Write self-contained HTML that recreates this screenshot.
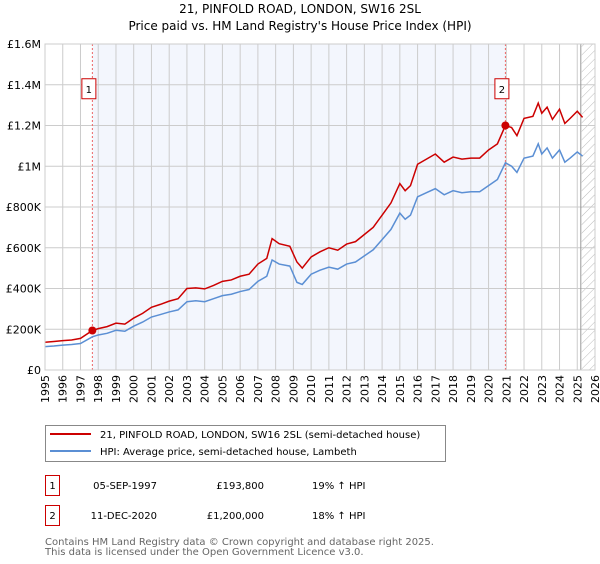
<!DOCTYPE html>
<html><head><meta charset="utf-8"><style>
body{margin:0;background:#fff;font-family:"DejaVu Sans","Liberation Sans",sans-serif;}
svg text{font-family:"DejaVu Sans","Liberation Sans",sans-serif;}
</style></head><body>
<svg id="chart" width="600" height="560" xmlns="http://www.w3.org/2000/svg">
<defs><pattern id="hatch" patternUnits="userSpaceOnUse" width="6" height="6" patternTransform="rotate(45)"><line x1="0" y1="0" x2="0" y2="6" stroke="#bbb" stroke-width="1"/></pattern></defs>
<text x="300" y="13" font-size="12" text-anchor="middle">21, PINFOLD ROAD, LONDON, SW16 2SL</text>
<text x="300" y="30" font-size="12" text-anchor="middle">Price paid vs. HM Land Registry's House Price Index (HPI)</text>
<g id="plot"></g>
<g>
<rect x="45.5" y="425.5" width="400" height="36" fill="#fff" stroke="#888"/>
<line x1="50" y1="434" x2="91" y2="434" stroke="#cc0000" stroke-width="2"/>
<text x="100" y="438" font-size="10">21, PINFOLD ROAD, LONDON, SW16 2SL (semi-detached house)</text>
<line x1="50" y1="451" x2="91" y2="451" stroke="#5b8fd4" stroke-width="2"/>
<text x="100" y="455" font-size="10">HPI: Average price, semi-detached house, Lambeth</text>
</g>
<g font-size="10">
<rect x="45.5" y="475.5" width="14" height="20" fill="#fff" stroke="#cc0000"/>
<text x="52.5" y="489" text-anchor="middle">1</text>
<text x="157" y="489" text-anchor="end">05-SEP-1997</text>
<text x="264" y="489" text-anchor="end">£193,800</text>
<text x="312" y="489">19% ↑ HPI</text>
</g>
<g font-size="10">
<rect x="45.5" y="505.5" width="14" height="20" fill="#fff" stroke="#cc0000"/>
<text x="52.5" y="519" text-anchor="middle">2</text>
<text x="157" y="519" text-anchor="end">11-DEC-2020</text>
<text x="264" y="519" text-anchor="end">£1,200,000</text>
<text x="312" y="519">18% ↑ HPI</text>
</g>
<text x="45" y="545" font-size="10" fill="#666">Contains HM Land Registry data © Crown copyright and database right 2025.</text>
<text x="45" y="555" font-size="10" fill="#666">This data is licensed under the Open Government Licence v3.0.</text>
</svg>
<script>
const years=[1995,1995.5,1996,1996.5,1997,1997.67,1998,1998.5,1999,1999.5,2000,2000.5,2001,2001.5,2002,2002.5,2003,2003.5,2004,2004.5,2005,2005.5,2006,2006.5,2007,2007.5,2007.8,2008.2,2008.8,2009.2,2009.5,2010,2010.5,2011,2011.5,2012,2012.5,2013,2013.5,2014,2014.5,2015,2015.3,2015.6,2016,2016.5,2017,2017.5,2018,2018.5,2019,2019.5,2020,2020.5,2020.95,2021.3,2021.6,2022,2022.5,2022.8,2023,2023.3,2023.6,2024,2024.3,2024.6,2025,2025.3];
const hpi=[115,118,122,125,130,163,172,180,195,190,215,235,260,272,285,295,335,340,335,350,365,372,385,395,435,460,540,520,510,430,420,470,490,505,495,520,530,560,590,640,690,770,740,760,850,870,890,860,880,870,875,875,905,935,1017,1000,970,1040,1050,1110,1060,1090,1040,1080,1020,1040,1070,1050];
const price=[136,140,144,147,155,194,203,213,230,225,255,278,308,322,338,350,400,403,398,415,435,442,460,470,520,548,645,620,607,530,500,555,580,600,588,618,630,665,700,760,820,915,880,905,1010,1035,1060,1020,1045,1035,1040,1040,1080,1110,1200,1190,1150,1235,1245,1310,1260,1290,1230,1280,1210,1235,1270,1240];
const saleYears=[1997.67,2020.95];
const salePrices=[193.8,1200];
const saleLabels=["1","2"];
const yTicks=[0,200,400,600,800,1000,1200,1400,1600];
const yTickLabels=["£0","£200K","£400K","£600K","£800K","£1M","£1.2M","£1.4M","£1.6M"];
const xYears=[];for(let y=1995;y<=2026;y++)xYears.push(y);

const X0=45,X1=595,Y0=370,Y1=44;
const xs=y=>X0+(y-1995)/(2026-1995)*(X1-X0);
const ys=v=>Y0-v/1600*(Y0-Y1);
const NS="http://www.w3.org/2000/svg";
const g=document.getElementById('plot');
function mk(t,a,p){const e=document.createElementNS(NS,t);for(const k in a)e.setAttribute(k,a[k]);(p||g).appendChild(e);return e;}

const shade=mk('rect',{x:xs(saleYears[0]),y:Y1,width:xs(saleYears[1])-xs(saleYears[0]),height:Y0-Y1,fill:'#f3f6fd'});


const hatch=mk('rect',{x:xs(2025.25),y:Y1,width:X1-xs(2025.25),height:Y0-Y1,fill:'url(#hatch)'});



xYears.forEach(y=>{
  const l=mk('line',{x1:xs(y),x2:xs(y),y1:Y1,y2:Y0,stroke:'#ccc','stroke-width':1});
  
  
  const t=mk('text',{x:0,y:0,'font-size':11,'text-anchor':'end',transform:`translate(${xs(y)+4},${Y0+5}) rotate(-90)`});
  t.textContent=y;
  
  
});
yTicks.forEach((v,i)=>{
  const l=mk('line',{x1:X0,x2:X1,y1:ys(v),y2:ys(v),stroke:'#ccc','stroke-width':1});
  
  
  const t=mk('text',{x:X0-4,y:ys(v)+4,'font-size':11,'text-anchor':'end'});
  t.textContent=yTickLabels[i];
  
  
});
const vl=mk('line',{x1:xs(2025.2),x2:xs(2025.2),y1:Y1,y2:Y0,stroke:'#999','stroke-width':1});



saleYears.forEach((y,i)=>{
  const l=mk('line',{x1:xs(y),x2:xs(y),y1:Y1,y2:Y0,stroke:'#ee6666','stroke-width':1,'stroke-dasharray':'2,2'});
  
  
});

const bp=mk('polyline',{points:years.map((y,i)=>xs(y)+','+ys(hpi[i])).join(' '),fill:'none',stroke:'#5b8fd4','stroke-width':1.5});


const rp=mk('polyline',{points:years.map((y,i)=>xs(y)+','+ys(price[i])).join(' '),fill:'none',stroke:'#cc0000','stroke-width':1.5});



saleYears.forEach((y,i)=>{
  const c=mk('circle',{cx:xs(y),cy:ys(salePrices[i]),r:4,fill:'#cc0000'});
  
  
  const bx=xs(y)-3.5, by=ys(1400)-6;
  const r=mk('rect',{x:bx-7,y:by,width:14,height:20,fill:'#fff',stroke:'#cc0000'});
  
  
  const t=mk('text',{x:bx,y:by+14,'font-size':10,'text-anchor':'middle'});
  t.textContent=saleLabels[i];
  
  
});
const frame=mk('rect',{x:X0,y:Y1,width:X1-X0,height:Y0-Y1,fill:'none',stroke:'#ccc'});


</script>
</body></html>
